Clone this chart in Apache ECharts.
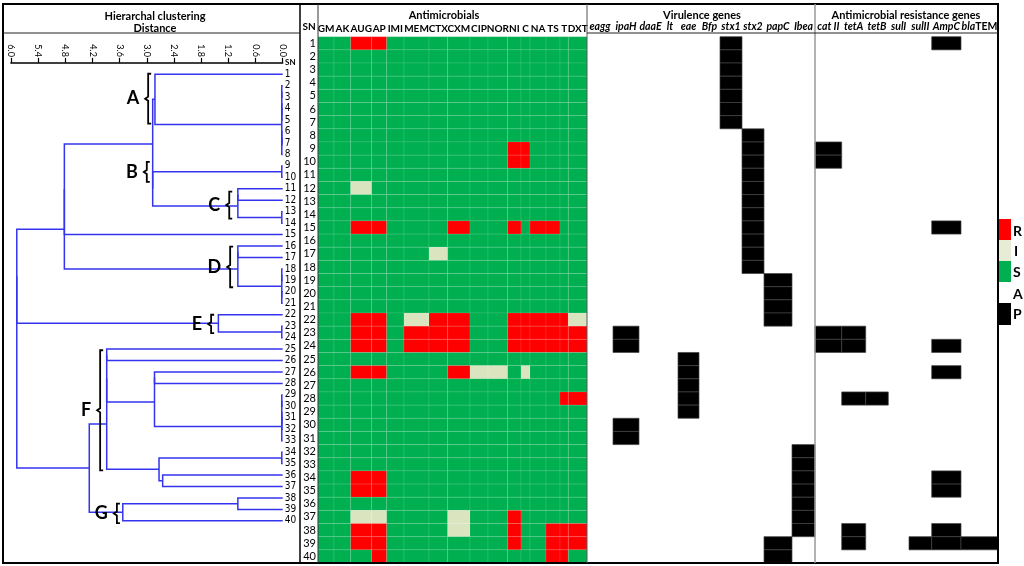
<!DOCTYPE html>
<html>
<head>
<meta charset="utf-8">
<script src="https://cdn.jsdelivr.net/npm/echarts@6/dist/echarts.min.js"></script>
<style>
  html, body { margin: 0; padding: 0; background: #fff; }
  #chart { width: 1024px; height: 566px; }
</style>
</head>
<body>
<div id="chart"></div>
<script>
// ---- data ----
const isolates = Array.from({ length: 40 }, (_, i) => String(i + 1));

const antimicrobials = ['GM', 'AK', 'AUG', 'AP', 'IMI', 'MEM', 'CTX', 'CXM', 'CIP', 'NOR', 'NI', 'C', 'NA', 'TS', 'T', 'DXT'];
const virulenceGenes = ['eagg', 'ipaH', 'daaE', 'lt', 'eae', 'Bfp', 'stx1', 'stx2', 'papC', 'Ibea'];
const resistanceGenes = ['cat II', 'tetA', 'tetB', 'sulI', 'sulII', 'AmpC', 'blaTEM'];

// one string per isolate (SN 1..40), one letter per antimicrobial: R resistant, I intermediate, S susceptible
const amrProfiles = [
  'SSRRSSSSSSSSSSSS', 'SSSSSSSSSSSSSSSS', 'SSSSSSSSSSSSSSSS', 'SSSSSSSSSSSSSSSS',
  'SSSSSSSSSSSSSSSS', 'SSSSSSSSSSSSSSSS', 'SSSSSSSSSSSSSSSS', 'SSSSSSSSSSSSSSSS',
  'SSSSSSSSSSRRSSSS', 'SSSSSSSSSSRRSSSS', 'SSSSSSSSSSSSSSSS', 'SSISSSSSSSSSSSSS',
  'SSSSSSSSSSSSSSSS', 'SSSSSSSSSSSSSSSS', 'SSRRSSSRSSRSRRSS', 'SSSSSSSSSSSSSSSS',
  'SSSSSSISSSSSSSSS', 'SSSSSSSSSSSSSSSS', 'SSSSSSSSSSSSSSSS', 'SSSSSSSSSSSSSSSS',
  'SSSSSSSSSSSSSSSS', 'SSRRSIRRSSRRRRRI', 'SSRRSRRRSSRRRRRR', 'SSRRSRRRSSRRRRRR',
  'SSSSSSSSSSSSSSSS', 'SSRRSSSRIISISSSS', 'SSSSSSSSSSSSSSSS', 'SSSSSSSSSSSSSSRR',
  'SSSSSSSSSSSSSSSS', 'SSSSSSSSSSSSSSSS', 'SSSSSSSSSSSSSSSS', 'SSSSSSSSSSSSSSSS',
  'SSSSSSSSSSSSSSSS', 'SSRRSSSSSSSSSSSS', 'SSRRSSSSSSSSSSSS', 'SSSSSSSSSSSSSSSS',
  'SSIISSSISSRSSSSS', 'SSRRSSSISSRSSRRR', 'SSRRSSSSSSRSSRRR', 'SSSRSSSSSSSSSRRS'
];

// 1 = gene present, order as virulenceGenes
const virulenceProfiles = [
  '0000001000', '0000001000', '0000001000', '0000001000', '0000001000', '0000001000', '0000001000',
  '0000000100', '0000000100', '0000000100', '0000000100', '0000000100', '0000000100',
  '0000000100', '0000000100', '0000000100', '0000000100', '0000000100',
  '0000000010', '0000000010', '0000000010', '0000000010',
  '0100000000', '0100000000',
  '0000100000', '0000100000', '0000100000', '0000100000', '0000100000',
  '0100000000', '0100000000',
  '0000000001', '0000000001', '0000000001', '0000000001', '0000000001', '0000000001', '0000000001',
  '0000000010', '0000000010'
];

// 1 = gene present, order as resistanceGenes
const resistanceProfiles = [
  '0000010', '0000000', '0000000', '0000000', '0000000', '0000000', '0000000', '0000000',
  '1000000', '1000000', '0000000', '0000000', '0000000', '0000000', '0000010', '0000000',
  '0000000', '0000000', '0000000', '0000000', '0000000', '0000000', '1100000', '1100010',
  '0000000', '0000010', '0000000', '0110000', '0000000', '0000000', '0000000', '0000000',
  '0000000', '0000010', '0000010', '0000000', '0000000', '0100010', '0100111', '0000000'
];

// hierarchical clustering merges: [node, child, child, distance]
const clusterMerges = [
  ['a1', 2, 3, 0.02], ['a2', 4, 5, 0.02], ['a3', 'a1', 'a2', 0.02],
  ['a4', 6, 7, 0.02], ['a5', 'a4', 8, 0.02], ['a6', 'a3', 'a5', 0.02],
  ['A', 1, 'a6', 2.82],
  ['b1', 9, 10, 0.02],
  ['c1', 13, 14, 0.02], ['c2', 11, 12, 0.99], ['C', 'c2', 'c1', 0.99],
  ['BC', 'b1', 'C', 2.87], ['ABC', 'A', 'BC', 2.87],
  ['t1', 'ABC', 15, 4.82],
  ['d1', 16, 17, 0.99], ['d2', 18, 19, 0.02], ['d3', 20, 21, 0.02], ['d4', 'd2', 'd3', 0.02],
  ['D', 'd1', 'd4', 0.99],
  ['top', 't1', 'D', 4.82],
  ['e1', 23, 24, 0.02], ['E', 22, 'e1', 1.42],
  ['f1', 25, 26, 3.885],
  ['h1', 27, 28, 2.83], ['h2', 29, 30, 0.02], ['h3', 31, 32, 0.02], ['h4', 'h2', 'h3', 0.02],
  ['h5', 'h4', 33, 0.02], ['H', 'h1', 'h5', 2.83],
  ['f2', 'f1', 'H', 3.885],
  ['i1', 34, 35, 0.02], ['J', 36, 37, 2.65], ['I', 'i1', 'J', 2.73],
  ['F', 'f2', 'I', 3.885],
  ['K', 38, 39, 0.99], ['G', 'K', 40, 3.53],
  ['FG', 'F', 'G', 4.27],
  ['r1', 'top', 'E', 5.87], ['root', 'r1', 'FG', 5.87]
];

const clusterNames = ['A', 'B', 'C', 'D', 'E', 'F', 'G'];

// ---- layout (annotation placement and column widths) ----
const bracketDistance = [2.97, 3.0, 1.18, 1.16, 1.58, 4.03, 3.66];
const bracketSpan = [[0.95, 5.3], [8.65, 10.4], [11.25, 13.6], [16.05, 19.6], [22.0, 23.6], [25.1, 35.6], [38.5, 40.2]];
const amrColWidths = [16, 16.7, 21, 15, 17.3, 25, 18.7, 22.3, 18, 19.7, 13.3, 9, 16, 14, 8.3, 18.7];
const virColWidths = [26, 26, 23, 16, 21, 21, 22, 22, 28, 23];
const resColWidths = [26.7, 24, 22.6, 20.7, 22.7, 29.3, 37];

const FONT = 'Lato, "Open Sans", sans-serif';
const NARROW = '"Liberation Sans Narrow", "DejaVu Sans Condensed", Roboto, sans-serif';
const HM_TOP = 36.7, HM_H = 563 - 36.7;

function edgesOf(widths) {
  const e = [0];
  widths.forEach(w => e.push(e[e.length - 1] + w));
  return e;
}
function centersOf(e) {
  return e.slice(0, -1).map((v, i) => (v + e[i + 1]) / 2);
}
const amrEdges = edgesOf(amrColWidths);
const virEdges = edgesOf(virColWidths);
const resEdges = edgesOf(resColWidths);

// dendrogram node positions from merges
const nodePos = {};
for (let i = 1; i <= 40; i++) nodePos[i] = [0, i];
const dendroSegments = clusterMerges.map(([name, a, b, h]) => {
  const pa = nodePos[a], pb = nodePos[b];
  nodePos[name] = [h, (pa[1] + pb[1]) / 2];
  return [h, pa[1], pb[1], pa[0], pb[0]];
});

const bracketData = clusterNames.map((n, i) => [bracketDistance[i], bracketSpan[i][0], bracketSpan[i][1], i]);

// cells
const amrCode = { S: 0, I: 1, R: 2 };
const amrCells = [];
amrProfiles.forEach((p, r) => p.split('').forEach((c, k) => amrCells.push([k, r, amrCode[c]])));
function presentCells(profiles) {
  const out = [];
  profiles.forEach((p, r) => p.split('').forEach((c, k) => { if (c === '1') out.push([k, r, 1]); }));
  return out;
}
const virCells = presentCells(virulenceProfiles);
const resCells = presentCells(resistanceProfiles);

function cellRenderer(edges, colors, stroke) {
  return function (params, api) {
    const col = api.value(0), row = api.value(1), code = api.value(2);
    const p0 = api.coord([edges[col], row]);
    const p1 = api.coord([edges[col + 1], row]);
    const h = api.size([0, 1])[1];
    return {
      type: 'rect',
      shape: { x: p0[0], y: p0[1] - h / 2, width: p1[0] - p0[0], height: h },
      style: { fill: colors[code], stroke: stroke, lineWidth: 0.7 }
    };
  };
}

function headerAxis(gridIndex, names, edges, italic) {
  const centers = centersOf(edges);
  const size = italic ? 10.5 : 10;
  return {
    gridIndex, type: 'value', position: 'top', min: 0, max: edges[edges.length - 1],
    axisLine: { show: false }, axisTick: { show: false }, splitLine: { show: false },
    axisLabel: {
      customValues: centers,
      showMinLabel: true, showMaxLabel: true, hideOverlap: false,
      formatter: v => {
        let best = 0;
        centers.forEach((c, i) => { if (Math.abs(c - v) < Math.abs(centers[best] - v)) best = i; });
        const n = names[best];
        return n === 'blaTEM' ? '{i|bla}{n|TEM}' : n;
      },
      color: '#000', fontWeight: 'bold', fontSize: size, fontFamily: FONT,
      fontStyle: italic ? 'italic' : 'normal', margin: italic ? 5 : 3,
      rich: {
        i: { fontStyle: 'italic', fontWeight: 'bold', fontSize: size, fontFamily: FONT, color: '#000' },
        n: { fontStyle: 'normal', fontWeight: 'bold', fontSize: size, fontFamily: FONT, color: '#000' }
      }
    }
  };
}

function rowAxis(gridIndex, showLabels) {
  return {
    gridIndex, type: 'category', data: isolates, inverse: true,
    axisLine: { show: false }, axisTick: { show: false }, splitLine: { show: false },
    axisLabel: { show: showLabels, interval: 0, margin: 2, fontSize: 11, color: '#000', fontFamily: FONT }
  };
}

const chart = echarts.init(document.getElementById('chart'));

const option = {
  animation: false,
  backgroundColor: '#fff',
  grid: [
    { left: 10.9, top: 62.85, width: 271.8, height: 469.45 },
    { left: 318, top: HM_TOP, width: 269, height: HM_H },
    { left: 587, top: HM_TOP, width: 228, height: HM_H },
    { left: 815, top: HM_TOP, width: 183, height: HM_H }
  ],
  xAxis: [
    {
      gridIndex: 0, type: 'value', inverse: true, position: 'top', min: 0, max: 6, interval: 0.6,
      axisLine: { lineStyle: { color: '#000', width: 1.5 } },
      axisTick: { length: 5, lineStyle: { color: '#000', width: 1.2 } },
      axisLabel: { rotate: -90, fontSize: 9, color: '#000', margin: 6, formatter: v => v.toFixed(1), fontFamily: FONT },
      splitLine: { show: false }
    },
    headerAxis(1, antimicrobials, amrEdges, false),
    headerAxis(2, virulenceGenes, virEdges, true),
    headerAxis(3, resistanceGenes, resEdges, true)
  ],
  yAxis: [
    {
      gridIndex: 0, type: 'value', inverse: true, position: 'right', min: 0, max: 41, interval: 1,
      axisLine: { show: false }, axisTick: { show: false }, splitLine: { show: false },
      axisLabel: { margin: 2, fontSize: 10, color: '#000', fontFamily: NARROW,
        formatter: v => (v >= 1 && v <= 40 ? String(v) : '') }
    },
    rowAxis(1, true),
    rowAxis(2, false),
    rowAxis(3, false)
  ],
  series: [
    {
      type: 'custom', xAxisIndex: 0, yAxisIndex: 0, clip: false,
      encode: { x: [0, 3, 4], y: [1, 2] },
      data: dendroSegments,
      renderItem: (params, api) => {
        const h = api.value(0), yl = api.value(1), yr = api.value(2), hl = api.value(3), hr = api.value(4);
        return {
          type: 'polyline',
          shape: { points: [api.coord([hl, yl]), api.coord([h, yl]), api.coord([h, yr]), api.coord([hr, yr])] },
          style: { stroke: '#3434ee', lineWidth: 1.5, fill: null }
        };
      }
    },
    {
      type: 'custom', xAxisIndex: 0, yAxisIndex: 0, clip: false, z: 5,
      encode: { x: 0, y: [1, 2] },
      data: bracketData,
      renderItem: (params, api) => {
        const t = api.coord([api.value(0), api.value(1)]);
        const b = api.coord([api.value(0), api.value(2)]);
        const x = t[0], y0 = t[1], y1 = b[1], ym = (y0 + y1) / 2;
        return {
          type: 'group',
          children: [
            {
              type: 'polyline',
              shape: { points: [[x + 3, y0], [x, y0], [x, ym - 2], [x - 3, ym], [x, ym + 2], [x, y1], [x + 3, y1]] },
              style: { stroke: '#000', lineWidth: 1.8, fill: null }
            },
            {
              type: 'text', x: x - 9, y: ym,
              style: { text: clusterNames[api.value(3)], fill: '#000', fontSize: 18, fontWeight: 'bold',
                fontFamily: FONT, align: 'right', verticalAlign: 'middle' }
            }
          ]
        };
      }
    },
    {
      type: 'custom', xAxisIndex: 1, yAxisIndex: 1, clip: false,
      encode: { x: 0, y: 1 },
      data: amrCells,
      renderItem: cellRenderer(amrEdges, ['#00b050', '#dae5c0', '#ff0000'], 'rgba(255,255,255,0.14)')
    },
    {
      type: 'custom', xAxisIndex: 2, yAxisIndex: 2, clip: false,
      encode: { x: 0, y: 1 },
      data: virCells,
      renderItem: cellRenderer(virEdges, ['#fff', '#000'], '#444')
    },
    {
      type: 'custom', xAxisIndex: 3, yAxisIndex: 3, clip: false,
      encode: { x: 0, y: 1 },
      data: resCells,
      renderItem: cellRenderer(resEdges, ['#fff', '#000'], '#444')
    }
  ],
  graphic: [
    // frame and panel separators
    { type: 'rect', z: 100, shape: { x: 3, y: 4, width: 995, height: 559 }, style: { fill: null, stroke: '#000', lineWidth: 2 } },
    { type: 'line', z: 100, shape: { x1: 300, y1: 4, x2: 300, y2: 563 }, style: { stroke: '#000', lineWidth: 1.5 } },
    { type: 'line', z: 100, shape: { x1: 318, y1: 4, x2: 318, y2: 563 }, style: { stroke: '#333', lineWidth: 1 } },
    { type: 'line', z: 100, shape: { x1: 587, y1: 4, x2: 587, y2: 563 }, style: { stroke: '#555', lineWidth: 1 } },
    { type: 'line', z: 100, shape: { x1: 815, y1: 4, x2: 815, y2: 563 }, style: { stroke: '#999', lineWidth: 1.5 } },
    { type: 'line', z: 100, shape: { x1: 3, y1: 33, x2: 300, y2: 33 }, style: { stroke: '#222', lineWidth: 1 } },
    { type: 'line', z: 100, shape: { x1: 587, y1: 33, x2: 998, y2: 33 }, style: { stroke: '#222', lineWidth: 1 } },
    // titles
    { type: 'text', x: 155, y: 16, style: { text: 'Hierarchal clustering', fontSize: 11, fontWeight: 'bold', fontFamily: FONT, fill: '#000', align: 'center', verticalAlign: 'middle' } },
    { type: 'text', x: 155, y: 28, style: { text: 'Distance', fontSize: 11, fontWeight: 'bold', fontFamily: FONT, fill: '#000', align: 'center', verticalAlign: 'middle' } },
    { type: 'text', x: 444, y: 15, style: { text: 'Antimicrobials', fontSize: 11, fontWeight: 'bold', fontFamily: FONT, fill: '#000', align: 'center', verticalAlign: 'middle' } },
    { type: 'text', x: 702, y: 15, style: { text: 'Virulence genes', fontSize: 11, fontWeight: 'bold', fontFamily: FONT, fill: '#000', align: 'center', verticalAlign: 'middle' } },
    { type: 'text', x: 906, y: 15, style: { text: 'Antimicrobial resistance genes', fontSize: 11, fontWeight: 'bold', fontFamily: FONT, fill: '#000', align: 'center', verticalAlign: 'middle' } },
    { type: 'text', x: 309, y: 27, style: { text: 'SN', fontSize: 10, fontWeight: 'bold', fontFamily: FONT, fill: '#000', align: 'center', verticalAlign: 'middle' } },
    { type: 'text', x: 285, y: 62, style: { text: 'SN', fontSize: 8, fontWeight: 'bold', fontFamily: FONT, fill: '#000', align: 'left', verticalAlign: 'middle' } },
    // legend
    { type: 'rect', shape: { x: 999, y: 219, width: 12, height: 21 }, style: { fill: '#ff0000' } },
    { type: 'rect', shape: { x: 999, y: 240, width: 12, height: 21 }, style: { fill: '#e6ecd6' } },
    { type: 'rect', shape: { x: 999, y: 261, width: 12, height: 21 }, style: { fill: '#00b050' } },
    { type: 'rect', shape: { x: 999, y: 303, width: 12, height: 22 }, style: { fill: '#000' } },
    { type: 'text', x: 1013, y: 231, style: { text: 'R', fontSize: 14, fontWeight: 'bold', fontFamily: FONT, fill: '#000', verticalAlign: 'middle' } },
    { type: 'text', x: 1014, y: 251, style: { text: 'I', fontSize: 14, fontWeight: 'bold', fontFamily: FONT, fill: '#000', verticalAlign: 'middle' } },
    { type: 'text', x: 1013, y: 272, style: { text: 'S', fontSize: 14, fontWeight: 'bold', fontFamily: FONT, fill: '#000', verticalAlign: 'middle' } },
    { type: 'text', x: 1013, y: 294, style: { text: 'A', fontSize: 14, fontWeight: 'bold', fontFamily: FONT, fill: '#000', verticalAlign: 'middle' } },
    { type: 'text', x: 1013, y: 314, style: { text: 'P', fontSize: 14, fontWeight: 'bold', fontFamily: FONT, fill: '#000', verticalAlign: 'middle' } }
  ]
};

chart.setOption(option);
window.addEventListener('resize', () => chart.resize());
</script>
</body>
</html>
